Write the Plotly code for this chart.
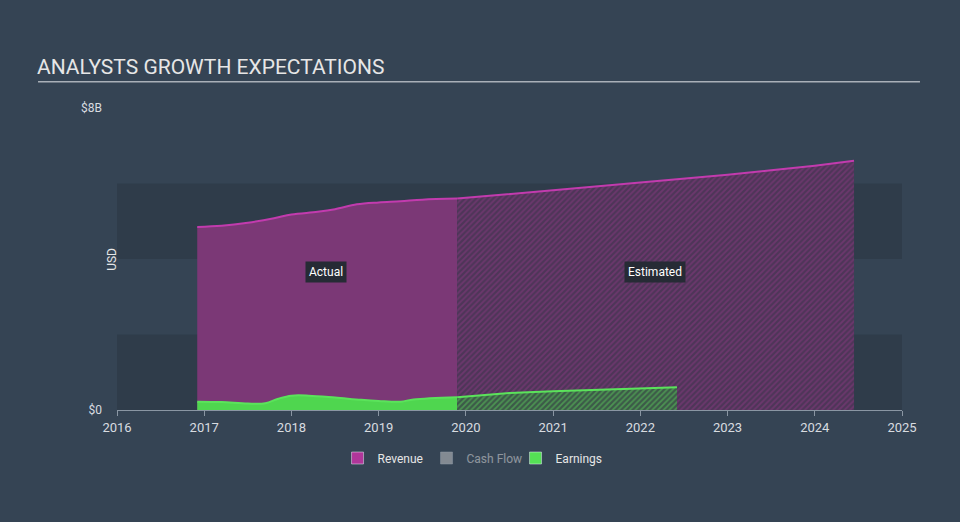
import plotly.graph_objects as go

BG = "#354454"
BAND = "#2f3c4a"
REV_LINE = "#c23bae"
REV_FILL = "#7b3876"
EARN_LINE = "#5be35b"
EARN_FILL = "#4fd64f"
TEXT = "#e6e6e6"

# values in $B, x in fractional years
rev_actual_x = [2016.92, 2017.2, 2017.5, 2017.8, 2018.0, 2018.3, 2018.5, 2018.75, 2019.0, 2019.25, 2019.5, 2019.9]
rev_actual_y = [4.85, 4.88, 4.96, 5.08, 5.18, 5.25, 5.32, 5.45, 5.5, 5.53, 5.57, 5.6]
rev_est_x = [2019.9, 2020.5, 2021.0, 2021.5, 2022.0, 2022.5, 2023.0, 2023.5, 2024.0, 2024.45]
rev_est_y = [5.6, 5.72, 5.82, 5.92, 6.02, 6.12, 6.23, 6.35, 6.47, 6.6]

earn_actual_x = [2016.92, 2017.2, 2017.5, 2017.7, 2017.85, 2018.0, 2018.2, 2018.5, 2018.8, 2019.0, 2019.25, 2019.4, 2019.9]
earn_actual_y = [0.22, 0.21, 0.17, 0.18, 0.3, 0.38, 0.38, 0.33, 0.27, 0.24, 0.22, 0.28, 0.34]
earn_est_x = [2019.9, 2020.2, 2020.5, 2021.0, 2021.5, 2022.0, 2022.42]
earn_est_y = [0.34, 0.4, 0.45, 0.5, 0.54, 0.57, 0.6]

years = list(range(2016, 2026))

fig = go.Figure()

fig.add_trace(go.Scatter(
    x=rev_actual_x, y=rev_actual_y, mode="lines", fill="tozeroy",
    line=dict(color=REV_LINE, width=2, shape="spline"), fillcolor=REV_FILL,
    showlegend=False, hoverinfo="skip"))
fig.add_trace(go.Scatter(
    x=rev_est_x, y=rev_est_y, mode="lines", fill="tozeroy",
    line=dict(color=REV_LINE, width=2), fillcolor="rgba(0,0,0,0)",
    fillpattern=dict(shape="/", bgcolor="#4e3558", fgcolor="#8a3a82", size=4, solidity=0.45),
    showlegend=False, hoverinfo="skip"))
fig.add_trace(go.Scatter(
    x=earn_actual_x, y=earn_actual_y, mode="lines", fill="tozeroy",
    line=dict(color=EARN_LINE, width=2, shape="spline"), fillcolor=EARN_FILL,
    showlegend=False, hoverinfo="skip"))
fig.add_trace(go.Scatter(
    x=earn_est_x, y=earn_est_y, mode="lines", fill="tozeroy",
    line=dict(color=EARN_LINE, width=2), fillcolor="rgba(0,0,0,0)",
    fillpattern=dict(shape="/", bgcolor="#3c5a48", fgcolor="#5ccc5c", size=4, solidity=0.45),
    showlegend=False, hoverinfo="skip"))

# legend entries
for name, color, vis in [("Revenue", "#b0369a", True), ("Cash Flow", "#d0d0d0", "legendonly"), ("Earnings", "#55e055", True)]:
    fig.add_trace(go.Bar(x=[None], y=[None], name=name, marker_color=color, visible=vis))

# background bands
for y0, y1 in [(0, 2), (4, 6)]:
    fig.add_shape(type="rect", xref="x", yref="y", x0=2016, x1=2025, y0=y0, y1=y1,
                  fillcolor=BAND, line_width=0, layer="below")

fig.add_annotation(x=2018.4, y=3.66, text="Actual", showarrow=False,
                   bgcolor="#262b35", font=dict(color="#ffffff", size=12), borderpad=3)
fig.add_annotation(x=2022.17, y=3.66, text="Estimated", showarrow=False,
                   bgcolor="#262b35", font=dict(color="#ffffff", size=12), borderpad=3)

fig.add_annotation(xref="paper", yref="paper", x=-0.1045, y=1.135, xanchor="left", yanchor="middle",
                   text="ANALYSTS GROWTH EXPECTATIONS", showarrow=False,
                   font=dict(color=TEXT, size=21))
fig.add_shape(type="line", xref="paper", yref="paper", x0=-0.1006, x1=1.0229, y0=1.087, y1=1.087,
              line=dict(color="#a9b0b8", width=1.5))
fig.add_annotation(xref="paper", yref="y", x=-0.018, y=4, text="USD", textangle=-90,
                   showarrow=False, font=dict(color=TEXT, size=12))

fig.update_layout(
    width=960, height=522,
    paper_bgcolor=BG, plot_bgcolor=BG,
    margin=dict(l=117, r=58, t=108, b=112),
    font=dict(family="Roboto, Open Sans, sans-serif", color=TEXT, size=12),
    xaxis=dict(range=[2016, 2025], tickvals=years, ticktext=[str(y) for y in years],
               showgrid=False, zeroline=False, showline=True, linecolor="#8a96a3", linewidth=1,
               ticks="outside", ticklen=5, tickcolor="#8a96a3",
               tickfont=dict(color="#d8dce0", size=13)),
    yaxis=dict(range=[0, 8], tickvals=[0, 8], ticktext=["$0", "$8B"],
               showgrid=False, zeroline=False, showline=False,
               tickfont=dict(color="#d8dce0", size=12), ticklabelstandoff=14),
    legend=dict(orientation="h", x=0.451, xanchor="center", y=-0.159, yanchor="middle",
                entrywidth=44, entrywidthmode="pixels",
                font=dict(color=TEXT, size=12), itemclick=False, itemdoubleclick=False),
    showlegend=True,
)

fig.write_html("out.html", config={"displayModeBar": False},
               post_script="document.body.style.margin='0';")
